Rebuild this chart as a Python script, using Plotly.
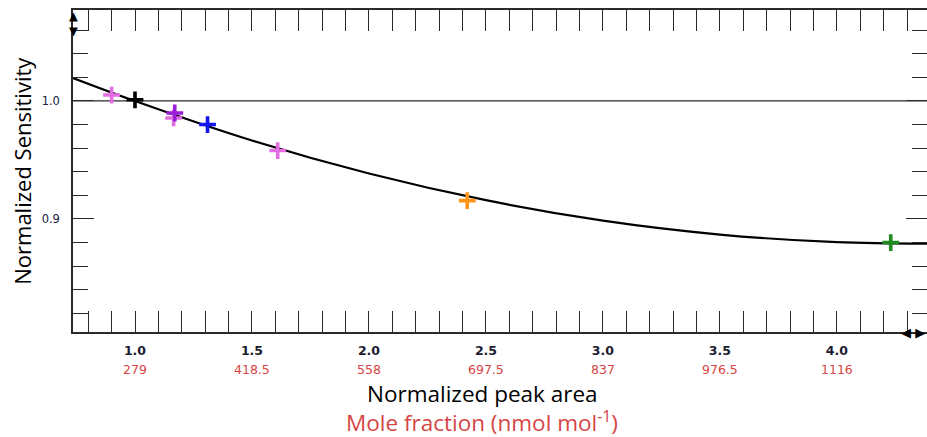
import plotly.graph_objects as go

# ---- data ----
curve_x = [0.735, 1.0, 1.5, 2.0, 2.5, 3.0, 3.5, 4.0, 4.385]
curve_y = [1.0195, 1.000, 0.9665, 0.9385, 0.9159, 0.8986, 0.8868, 0.8803, 0.8790]

point_x = [0.90, 1.00, 1.165, 1.17, 1.31, 1.61, 2.42, 4.23]
point_y = [1.005, 1.001, 0.9856, 0.9898, 0.980, 0.958, 0.9155, 0.880]
point_colors = ["#e36ee3", "#000000", "#e36ee3", "#9a1ed8", "#1414f0",
                "#e36ee3", "#ff9419", "#1f8a1f"]

x_tick_vals = [1.0, 1.5, 2.0, 2.5, 3.0, 3.5, 4.0]
x_tick_text = ["1.0", "1.5", "2.0", "2.5", "3.0", "3.5", "4.0"]
mole_fraction_text = ["279", "418.5", "558", "697.5", "837", "976.5", "1116"]
y_tick_vals = [0.9, 1.0]
y_tick_text = ["0.9", "1.0"]

x_range = [0.735, 4.385]
y_range = [0.8042, 1.0771]
reference_sensitivity = 1.0

RED = "#d64545"
AX = "#2a2a2a"

fig = go.Figure()
fig.add_trace(go.Scatter(x=curve_x, y=curve_y, mode="lines",
                         line=dict(color="black", width=2.2, shape="spline"),
                         showlegend=False, hoverinfo="skip"))
fig.add_trace(go.Scatter(x=point_x, y=point_y, mode="markers",
                         marker=dict(symbol="cross-thin", size=12,
                                     line=dict(color=point_colors, width=3.6)),
                         showlegend=False))
# invisible trace to activate the right-hand tick axis
fig.add_trace(go.Scatter(x=[x_range[0]], y=[y_range[0]], yaxis="y2", mode="markers",
                         marker=dict(opacity=0), showlegend=False, hoverinfo="skip"))

fig.add_shape(type="line", xref="paper", x0=0, x1=1, yref="y",
              y0=reference_sensitivity, y1=reference_sensitivity,
              line=dict(color=AX, width=1.2), layer="below")

annotations = []
for v, t in zip(x_tick_vals, mole_fraction_text):
    annotations.append(dict(x=v, xref="x", y=-0.115, yref="paper", text=t,
                            showarrow=False, xanchor="center", yanchor="middle",
                            font=dict(family="DejaVu Sans", size=12.5, color=RED)))
annotations += [
    dict(x=0.479, xref="paper", y=-0.19, yref="paper", text="Normalized peak area",
         showarrow=False, xanchor="center", yanchor="middle",
         font=dict(family="Open Sans", size=22.5, color="black")),
    dict(x=0.479, xref="paper", y=-0.279, yref="paper",
         text="Mole fraction (nmol mol<sup>-1</sup>)",
         showarrow=False, xanchor="center", yanchor="middle",
         font=dict(family="Open Sans", size=22.5, color=RED)),
    dict(x=-0.06, xref="paper", y=0.5, yref="paper", text="Normalized Sensitivity",
         textangle=-90, showarrow=False, xanchor="center", yanchor="middle",
         font=dict(family="Open Sans", size=22, color="black")),
    dict(x=0, xref="paper", y=0.957, yref="paper", text="▲<br>▼", showarrow=False,
         xanchor="center", yanchor="middle",
         font=dict(family="DejaVu Sans", size=11.5, color="black")),
    dict(x=0.984, xref="paper", y=0, yref="paper", text="◀ ▶", showarrow=False,
         xanchor="center", yanchor="middle",
         font=dict(family="DejaVu Sans", size=13, color="black")),
]

minor_y = dict(dtick=0.02, tick0=0, ticks="inside", ticklen=15,
               tickcolor=AX, tickwidth=1, showgrid=False)

fig.update_layout(
    width=927, height=437,
    margin=dict(l=73, r=0, t=10, b=105),
    paper_bgcolor="white", plot_bgcolor="white",
    annotations=annotations,
    xaxis=dict(range=x_range, tickmode="array", tickvals=x_tick_vals,
               ticktext=["<b>%s</b>" % t for t in x_tick_text],
               ticks="inside", ticklen=21, tickcolor=AX, tickwidth=1,
               showline=True, linecolor=AX, linewidth=1.5, mirror="allticks",
               showgrid=False, zeroline=False, ticklabelstandoff=6,
               tickfont=dict(family="DejaVu Sans", size=12.5, color="#1c1c30"),
               minor=dict(dtick=0.1, tick0=0, ticks="inside", ticklen=15,
                          tickcolor=AX, tickwidth=1, showgrid=False)),
    yaxis=dict(range=y_range, tickmode="array", tickvals=y_tick_vals,
               ticktext=y_tick_text,
               ticks="inside", ticklen=21, tickcolor=AX, tickwidth=1,
               showline=True, linecolor=AX, linewidth=1.5, mirror=False,
               showgrid=False, zeroline=False, ticklabelstandoff=9,
               tickfont=dict(family="DejaVu Sans", size=11.5, color="#202040"),
               minor=minor_y),
    yaxis2=dict(range=y_range, overlaying="y", side="right", tickmode="array",
                tickvals=y_tick_vals, showticklabels=False,
                ticks="inside", ticklen=21, tickcolor=AX, tickwidth=1,
                showline=False, showgrid=False, zeroline=False,
                minor=minor_y),
)

fig.write_html("out.html")
